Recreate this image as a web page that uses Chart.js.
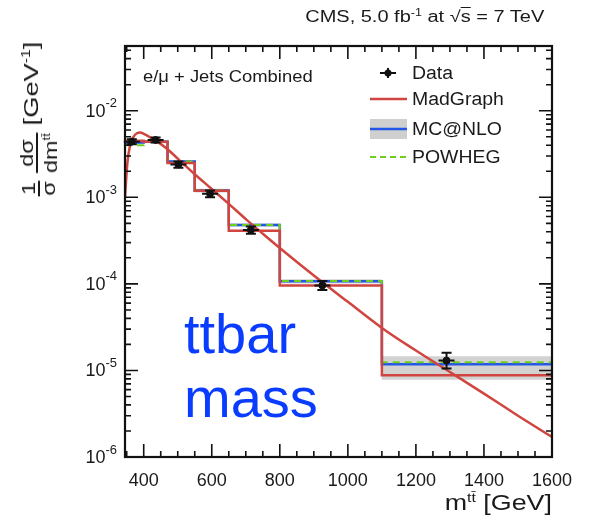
<!DOCTYPE html>
<html>
<head>
<meta charset="utf-8">
<script src="https://cdn.jsdelivr.net/npm/chart.js@4.4.0/dist/chart.umd.min.js"></script>
<style>
body { margin: 0; background: #fff; font-family: "Liberation Sans", Arial, sans-serif; color: #1a1a1a; }
#wrap { position: relative; width: 590px; height: 517px; overflow: hidden; }
canvas { position: absolute; left: 0; top: 0; }
.txt { position: absolute; white-space: nowrap; }
#cms { right: 46px; top: 7px; font-size: 16px; transform: scaleX(1.25); transform-origin: right center; }
#cms sup { font-size: 10px; }
.ov { text-decoration: overline; }
#chan { left: 143px; top: 68px; font-size: 16px; transform: scaleX(1.15); transform-origin: left center; }
.leg { position: absolute; left: 368px; height: 22px; line-height: 22px; font-size: 18px; white-space: nowrap; }
.leg svg { position: absolute; left: 0; top: 0; }
.leg span { position: absolute; left: 44px; top: 0; transform: scaleX(1.08); transform-origin: left center; }
#big { left: 184px; top: 302px; font-size: 56px; line-height: 64px; color: #0a3cff; }
#xtitle { right: 38px; top: 490px; font-size: 22px; transform: scaleX(1.22); transform-origin: right center; }
#xtitle sup { font-size: 13px; }
#ytitle { position: absolute; left: 39px; top: 121px; transform: translate(-50%, -50%) rotate(-90deg) scaleX(1.3);
  white-space: nowrap; font-size: 21px; display: flex; align-items: center; }
.frac { display: inline-flex; flex-direction: column; text-align: center; font-size: 18px; margin: 0 3px; }
.frac .num { border-bottom: 2px solid #1a1a1a; line-height: 18px; padding: 0 1px; }
.frac .den { line-height: 18px; }
.frac sup { font-size: 10px; }
.unit { position: relative; top: -8px; margin-left: 3px; }
.unit sup { font-size: 12px; }
</style>
</head>
<body>
<div id="wrap">
  <canvas id="chart" width="590" height="517"></canvas>
  <div class="txt" id="cms">CMS, 5.0 fb<sup>-1</sup> at √<span class="ov">s</span> = 7 TeV</div>
  <div class="txt" id="chan">e/μ + Jets Combined</div>

  <div class="leg" style="top:62px">
    <svg width="40" height="22"><line x1="12" y1="11" x2="28" y2="11" stroke="#111" stroke-width="2"/><line x1="20" y1="6" x2="20" y2="16" stroke="#111" stroke-width="2"/><circle cx="20" cy="11" r="3.5" fill="#111"/></svg>
    <span>Data</span>
  </div>
  <div class="leg" style="top:88px">
    <svg width="40" height="22"><line x1="2" y1="11" x2="39" y2="11" stroke="#d0453f" stroke-width="2.5"/></svg>
    <span>MadGraph</span>
  </div>
  <div class="leg" style="top:118px">
    <svg width="40" height="22"><rect x="2" y="1" width="37" height="20" fill="#cfcfcf"/><line x1="2" y1="11" x2="39" y2="11" stroke="#2356e8" stroke-width="2.5"/></svg>
    <span>MC@NLO</span>
  </div>
  <div class="leg" style="top:146px">
    <svg width="40" height="22"><line x1="2" y1="11" x2="39" y2="11" stroke="#6fcf1c" stroke-width="2" stroke-dasharray="6,4"/></svg>
    <span>POWHEG</span>
  </div>

  <div id="ytitle">
    <span class="frac"><span class="num">1</span><span class="den">σ</span></span>
    <span class="frac"><span class="num">dσ</span><span class="den">dm<sup>tt̄</sup></span></span>
    <span class="unit">[GeV<sup>-1</sup>]</span>
  </div>
  <div class="txt" id="xtitle">m<sup>tt̄</sup> [GeV]</div>
  <div class="txt" id="big">ttbar<br>mass</div>
</div>

<script>
// bin edges in GeV
const binEdges = [345, 400, 470, 550, 650, 800, 1100, 1600];

// measured data
const dataX = [365, 435, 502, 595, 715, 925, 1290];
const dataY = [4.4e-3, 4.6e-3, 2.4e-3, 1.1e-3, 4.2e-4, 9.6e-5, 1.3e-5];
const dataLo = [4.1e-3, 4.3e-3, 2.2e-3, 1.0e-3, 3.8e-4, 8.5e-5, 1.05e-5];
const dataHi = [4.7e-3, 4.9e-3, 2.6e-3, 1.2e-3, 4.6e-4, 1.08e-4, 1.6e-5];

// predictions per bin
const madgraphBins = [4.5e-3, 4.4e-3, 2.5e-3, 1.19e-3, 4.1e-4, 9.6e-5, 8.8e-6];
const mcatnloBins = [4.3e-3, 4.4e-3, 2.6e-3, 1.2e-3, 4.8e-4, 1.07e-4, 1.18e-5];
const mcatnloUp = [4.5e-3, 4.6e-3, 2.7e-3, 1.26e-3, 5.0e-4, 1.13e-4, 1.46e-5];
const mcatnloDown = [4.1e-3, 4.2e-3, 2.5e-3, 1.14e-3, 4.6e-4, 1.01e-4, 7.8e-6];
const powhegBins = [4.0e-3, 4.4e-3, 2.6e-3, 1.2e-3, 4.8e-4, 1.08e-4, 1.24e-5];

// smooth madgraph curve
const curveX = [345, 352, 360, 370, 380, 390, 400, 420, 440, 470, 500, 550, 600, 650, 700, 750, 800, 900, 1000, 1100, 1200, 1300, 1400, 1500, 1600];
const curveY = [1.0e-3, 2.5e-3, 4.0e-3, 5.0e-3, 5.5e-3, 5.6e-3, 5.4e-3, 4.9e-3, 4.4e-3, 3.6e-3, 2.8e-3, 1.85e-3, 1.25e-3, 8.4e-4, 5.6e-4, 3.8e-4, 2.6e-4, 1.25e-4, 6.2e-5, 3.1e-5, 1.7e-5, 9.6e-6, 5.4e-6, 3.0e-6, 1.7e-6];

// axis ticks
const xTicks = [400, 600, 800, 1000, 1200, 1400, 1600];
const yTicks = [1e-6, 1e-5, 1e-4, 1e-3, 1e-2];

function steps(vals) {
    return binEdges.map((e, i) => ({ x: e, y: vals[Math.min(i, vals.length - 1)] }));
}

// ticks inside the frame, frame, y labels with superscripts, error bars
const framePlugin = {
    id: 'frame',
    afterDatasetsDraw(chart) {
        let { ctx, chartArea: a, scales: { x, y } } = chart;
        ctx.save();

        // data error bars
        ctx.strokeStyle = '#111';
        ctx.lineWidth = 2;
        dataX.forEach((v, i) => {
            let px = x.getPixelForValue(v);
            let py = y.getPixelForValue(dataY[i]);
            let lo = y.getPixelForValue(dataLo[i]);
            let hi = y.getPixelForValue(dataHi[i]);
            ctx.beginPath();
            ctx.moveTo(px, lo); ctx.lineTo(px, hi);
            ctx.moveTo(px - 5, lo); ctx.lineTo(px + 5, lo);
            ctx.moveTo(px - 5, hi); ctx.lineTo(px + 5, hi);
            ctx.moveTo(px - 8, py); ctx.lineTo(px + 8, py);
            ctx.stroke();
        });

        ctx.lineWidth = 1.6;
        ctx.beginPath();
        for (let v = 350; v <= 1600; v += 50) {
            let px = x.getPixelForValue(v);
            let len = xTicks.includes(v) ? 13 : 6;
            ctx.moveTo(px, a.bottom); ctx.lineTo(px, a.bottom - len);
            ctx.moveTo(px, a.top); ctx.lineTo(px, a.top + len);
        }
        for (let d = -6; d <= -2; d++) {
            for (let m = 1; m <= 9; m++) {
                let v = m * Math.pow(10, d);
                if (v > y.max) break;
                let py = y.getPixelForValue(v);
                let len = m === 1 ? 13 : 6;
                ctx.moveTo(a.left, py); ctx.lineTo(a.left + len, py);
                ctx.moveTo(a.right, py); ctx.lineTo(a.right - len, py);
            }
        }
        ctx.stroke();

        ctx.lineWidth = 2.2;
        ctx.strokeRect(a.left, a.top, a.right - a.left, a.bottom - a.top);

        // y tick labels: 10 with a raised exponent
        ctx.fillStyle = '#1a1a1a';
        ctx.textBaseline = 'middle';
        yTicks.forEach(v => {
            let py = y.getPixelForValue(v);
            let exp = String(Math.round(Math.log10(v)));
            ctx.font = '13px "Liberation Sans"';
            let ew = ctx.measureText(exp).width;
            ctx.textAlign = 'right';
            ctx.fillText(exp, a.left - 8, py - 7);
            ctx.font = '18px "Liberation Sans"';
            ctx.fillText('10', a.left - 8 - ew, py + 1);
        });
        ctx.restore();
    }
};

let ctx = document.getElementById('chart').getContext('2d');

new Chart(ctx, {
    type: 'line',
    data: {
        datasets: [
            {
                label: 'Data',
                data: dataX.map((v, i) => ({ x: v, y: dataY[i] })),
                showLine: false,
                pointRadius: 3.5,
                pointBackgroundColor: '#111',
                pointBorderColor: '#111',
                order: 0,
            },
            {
                label: 'MadGraph curve',
                data: curveX.map((v, i) => ({ x: v, y: curveY[i] })),
                borderColor: '#d0453f',
                borderWidth: 2.5,
                pointRadius: 0,
                cubicInterpolationMode: 'monotone',
                order: 1,
            },
            {
                label: 'MadGraph',
                data: steps(madgraphBins),
                borderColor: '#d0453f',
                borderWidth: 2.5,
                pointRadius: 0,
                stepped: 'before',
                order: 2,
            },
            {
                label: 'POWHEG',
                data: steps(powhegBins),
                borderColor: '#6fcf1c',
                borderWidth: 2,
                borderDash: [7, 5],
                pointRadius: 0,
                stepped: 'before',
                order: 3,
            },
            {
                label: 'MC@NLO',
                data: steps(mcatnloBins),
                borderColor: '#2356e8',
                borderWidth: 2.5,
                pointRadius: 0,
                stepped: 'before',
                order: 4,
            },
            {
                label: 'MC@NLO up',
                data: steps(mcatnloUp),
                borderWidth: 0,
                borderColor: 'rgba(0,0,0,0)',
                backgroundColor: '#d2d2d2',
                pointRadius: 0,
                stepped: 'before',
                fill: '+1',
                order: 5,
            },
            {
                label: 'MC@NLO down',
                data: steps(mcatnloDown),
                borderWidth: 0,
                borderColor: 'rgba(0,0,0,0)',
                pointRadius: 0,
                stepped: 'before',
                fill: false,
                order: 6,
            },
        ],
    },
    options: {
        responsive: false,
        animation: false,
        devicePixelRatio: 1,
        layout: { padding: { top: 46, right: 38, left: 0, bottom: 0 } },
        plugins: {
            legend: { display: false },
            tooltip: { enabled: false },
        },
        scales: {
            x: {
                type: 'linear',
                min: 345,
                max: 1600,
                afterBuildTicks: s => { s.ticks = xTicks.map(v => ({ value: v })); },
                afterFit: s => { s.height = 60; },
                grid: { display: false },
                border: { display: false },
                ticks: {
                    padding: 5,
                    maxRotation: 0,
                    autoSkip: false,
                    color: '#1a1a1a',
                    font: { family: 'Liberation Sans', size: 18 },
                    callback: v => String(v),
                },
            },
            y: {
                type: 'logarithmic',
                min: 1e-6,
                max: 0.056,
                afterBuildTicks: s => { s.ticks = yTicks.map(v => ({ value: v })); },
                afterFit: s => { s.width = 125; },
                grid: { display: false },
                border: { display: false },
                ticks: { display: false },
            },
        },
    },
    plugins: [framePlugin],
});
</script>
</body>
</html>
